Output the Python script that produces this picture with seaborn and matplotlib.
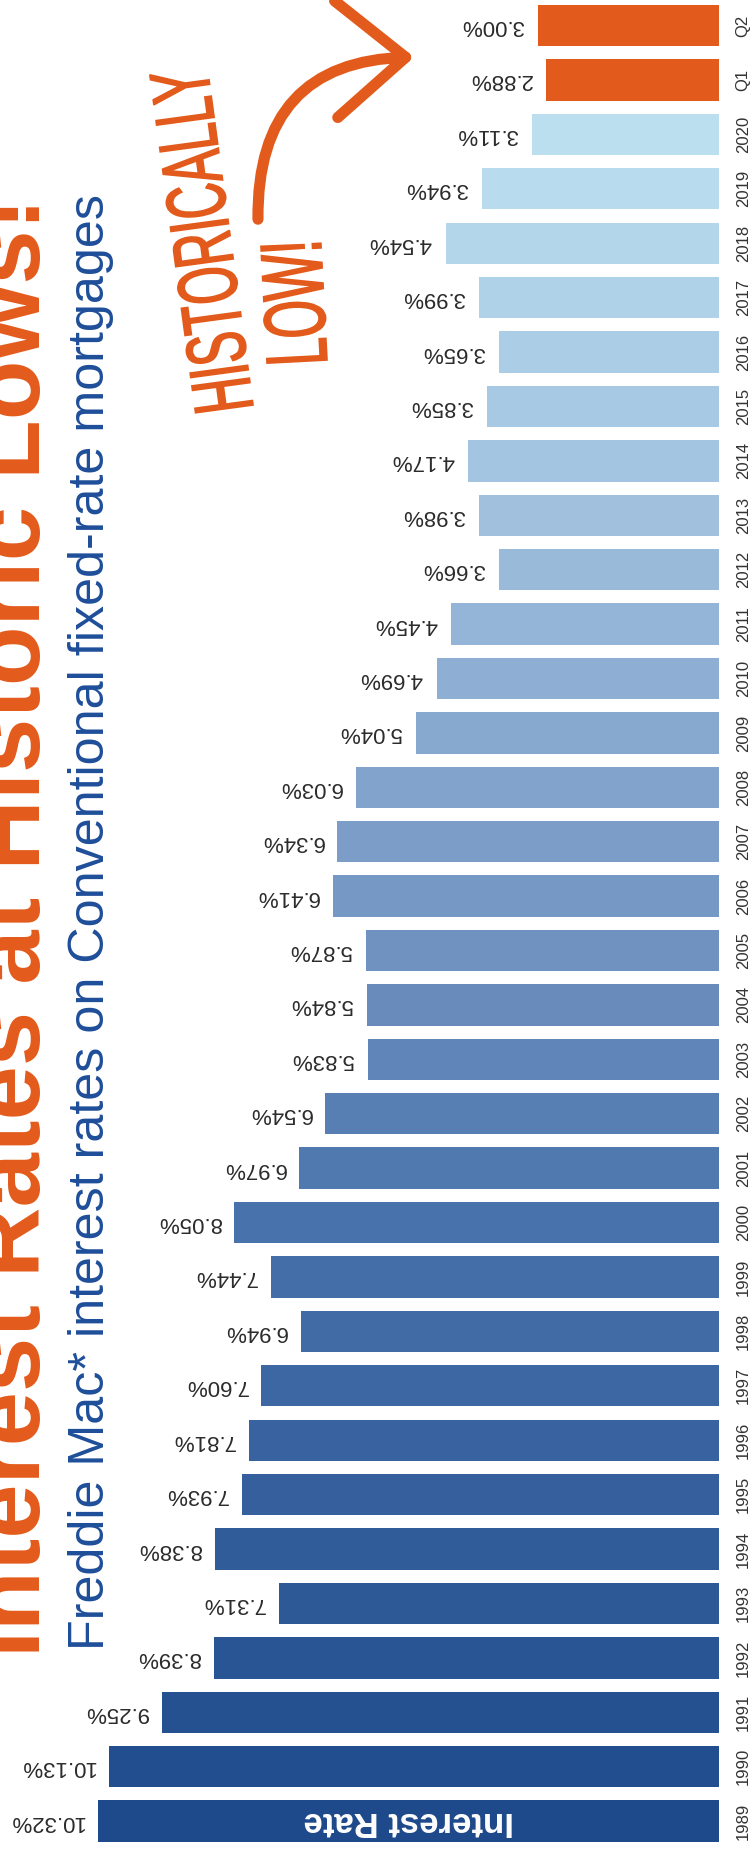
import matplotlib
matplotlib.use("Agg")
import pandas as pd
import matplotlib.pyplot as plt
import seaborn as sns
from matplotlib.colors import LinearSegmentedColormap, to_hex
from matplotlib.patches import FancyArrowPatch, PathPatch
from matplotlib.textpath import TextPath
from matplotlib.font_manager import FontProperties
from matplotlib.transforms import Affine2D

# data (1989 -> 2021 Q2)
periods = ['1989', '1990', '1991', '1992', '1993', '1994', '1995', '1996',
           '1997', '1998', '1999', '2000', '2001', '2002', '2003', '2004',
           '2005', '2006', '2007', '2008', '2009', '2010', '2011', '2012',
           '2013', '2014', '2015', '2016', '2017', '2018', '2019', '2020',
           'Q1', 'Q2']
rates = [10.32, 10.13, 9.25, 8.39, 7.31, 8.38, 7.93, 7.81,
         7.60, 6.94, 7.44, 8.05, 6.97, 6.54, 5.83, 5.84,
         5.87, 6.41, 6.34, 6.03, 5.04, 4.69, 4.45, 3.66,
         3.98, 4.17, 3.85, 3.65, 3.99, 4.54, 3.94, 3.11,
         2.88, 3.00]
highlight = ['Q1', 'Q2']

title = 'Interest Rates at Historic Lows!'
subtitle = 'Freddie Mac* interest rates on Conventional fixed-rate mortgages'
bar_name = 'Interest Rate'
note1 = 'HISTORICALLY'
note2 = 'LOW!'

ORANGE = '#e35b1c'
BLUE_TXT = '#1f4e9a'

df = pd.DataFrame({'period': periods, 'rate': rates})

# blue gradient across the years, orange for the quarters
cmap = LinearSegmentedColormap.from_list(
    'rates', [(0, '#1e4a8c'), (11 / 31, '#4872ab'), (16 / 31, '#7092c0'),
              (24 / 31, '#a0c0de'), (1, '#bcdff0')])
years = [p for p in periods if p not in highlight]
palette = {p: to_hex(cmap(i / (len(years) - 1))) for i, p in enumerate(years)}
for p in highlight:
    palette[p] = ORANGE

sns.set_style('white')
plt.rcParams['font.family'] = ['Liberation Sans', 'DejaVu Sans']

W, H = 752, 1851
fig = plt.figure(figsize=(W / 100, H / 100), dpi=100)
ax = fig.add_axes([0, 0, 719 / W, 1])

order = periods[::-1]
sns.barplot(data=df, x='rate', y='period', hue='period', palette=palette,
            order=order, hue_order=order, orient='h', width=0.76,
            saturation=1, dodge=False, legend=False, linewidth=0, ax=ax)

ax.set_xlim(719 / 60.2, 0)
ax.set_ylim(len(order) - 1 + 0.55, -0.47)
sns.despine(ax=ax, left=True, bottom=True)
ax.set_xticks([])
ax.set_xlabel('')
ax.set_ylabel('')
ax.yaxis.tick_right()
ax.tick_params(axis='y', length=0, pad=12, labelsize=12, labelcolor='#333333',
               labelrotation=90)
for lab in ax.get_yticklabels():
    lab.set_va('center')

for cont in ax.containers:
    ax.bar_label(cont, fmt='{:.2f}%', padding=10, rotation=180, fontsize=16,
                 color='#2b2b2b')

ax.text(rates[0] / 2, order.index(periods[0]), bar_name, rotation=180,
        ha='center', va='center', color='white', fontsize=25,
        fontweight='bold')


def fit_length(txt, length):
    fig.canvas.draw()
    ext = txt.get_window_extent()
    size = max(ext.width, ext.height)
    txt.set_fontsize(txt.get_fontsize() * length / size)


narrow = ['Liberation Sans Narrow', 'Liberation Sans', 'DejaVu Sans']

t1 = fig.text(40 / W, 1 - 1657 / H, title, rotation=90, rotation_mode='anchor',
              ha='left', va='baseline', color=ORANGE, fontweight='bold',
              family=narrow, fontsize=60)
fit_length(t1, 1460)

t2 = fig.text(104 / W, 1 - 1650 / H, subtitle, rotation=90,
              rotation_mode='anchor', ha='left', va='baseline',
              color=BLUE_TXT, fontsize=30)
fit_length(t2, 1452)


# hand-lettered note: a tall, squeezed text path
def hand_text(s, x0, y0, length, cap, angle):
    fp = FontProperties(family=narrow, size=100)
    tp = TextPath((0, 0), s, prop=fp)
    ext = tp.get_extents()
    cap_ref = TextPath((0, 0), 'H', prop=fp).get_extents().height
    tr = (Affine2D().translate(-ext.x0, 0)
          .scale(length / ext.width, cap / cap_ref)
          .rotate_deg(angle).translate(x0, H - y0))
    fig.add_artist(PathPatch(tp, transform=tr, facecolor=ORANGE,
                             edgecolor=ORANGE, lw=1.2))


hand_text(note1, 253, 405, 341, 58, 97.7)
hand_text(note2, 327, 360, 117, 60, 93)

arrow = FancyArrowPatch((258 / W, 1 - 222 / H), (417 / W, 1 - 57 / H),
                        transform=fig.transFigure,
                        connectionstyle='arc3,rad=-0.5',
                        arrowstyle='->,head_length=50,head_width=42',
                        mutation_scale=1, lw=8, color=ORANGE,
                        capstyle='round', joinstyle='round')
fig.add_artist(arrow)

fig.savefig('out.png', dpi=100, facecolor='white')
